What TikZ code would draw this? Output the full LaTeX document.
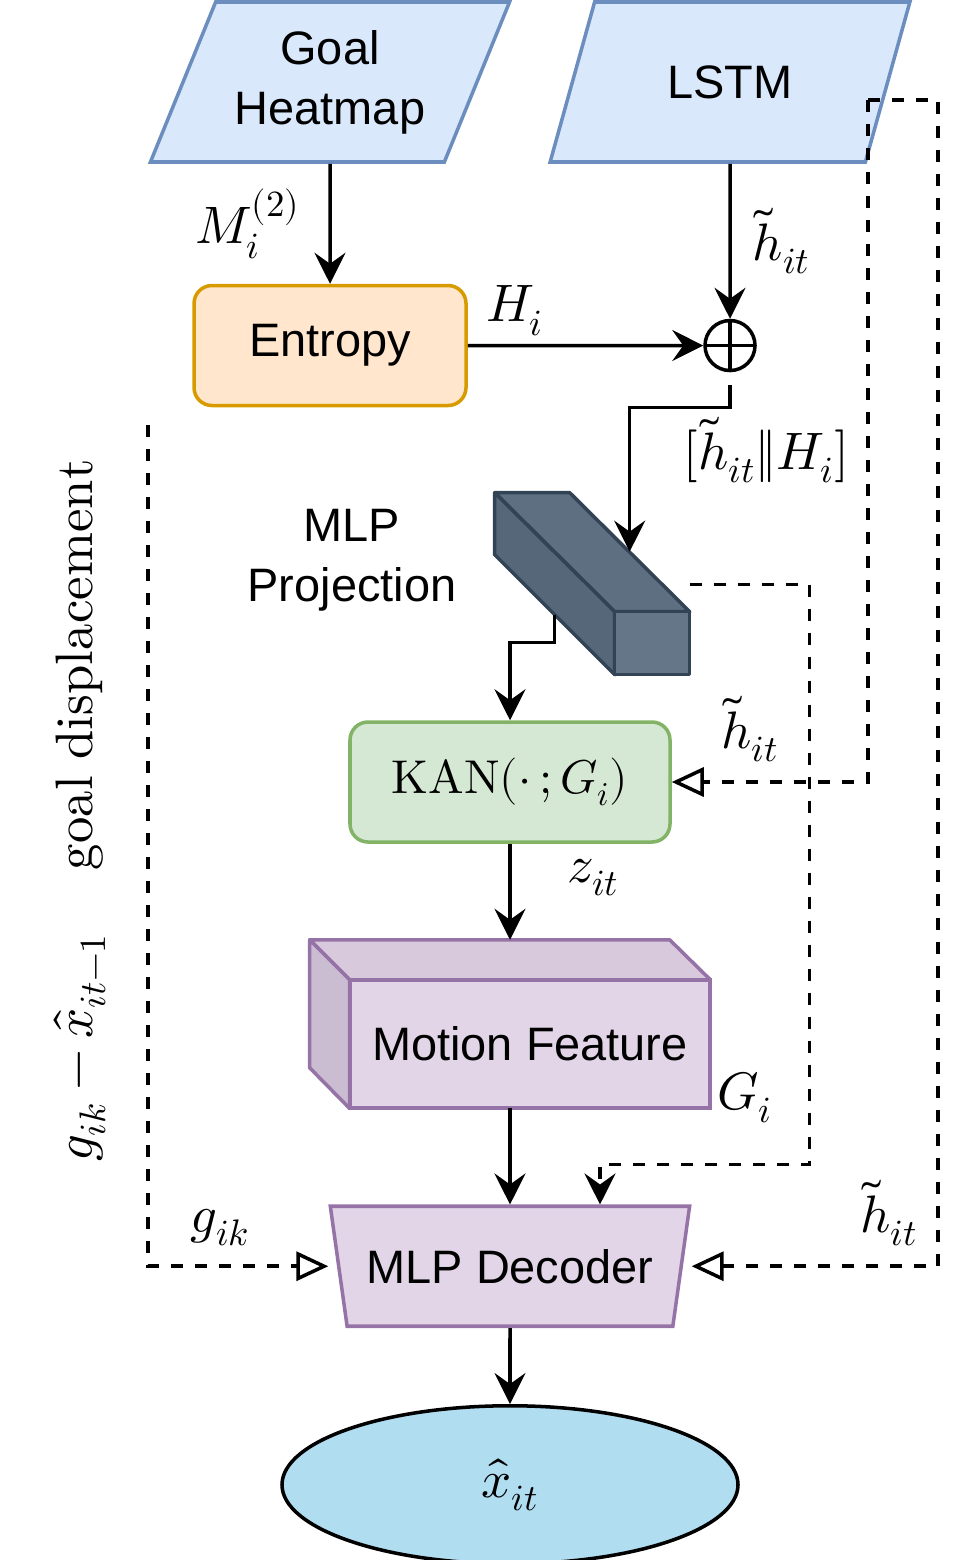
\documentclass[tikz,border=0pt]{standalone}
\usepackage{amsmath}
\usepackage{fontspec}
\usepackage{unicode-math}
\setmathfont{Latin Modern Math}
\usepackage{tikz}
\usetikzlibrary{positioning, shapes.geometric, arrows.meta, calc}
\newfontfamily\arial{Liberation Sans}

\definecolor{ioFill}{HTML}{DAE8FC}
\definecolor{ioLine}{HTML}{6C8EBF}
\definecolor{entFill}{HTML}{FFE6CC}
\definecolor{entLine}{HTML}{D79B00}
\definecolor{kanFill}{HTML}{D5E8D4}
\definecolor{kanLine}{HTML}{82B366}
\definecolor{mfFill}{HTML}{E1D5E7}
\definecolor{mfTop}{HTML}{D8C9DD}
\definecolor{mfSide}{HTML}{CBBDD1}
\definecolor{mfLine}{HTML}{9673A6}
\definecolor{cubeFront}{HTML}{647687}
\definecolor{cubeTop}{HTML}{5E6F82}
\definecolor{cubeSide}{HTML}{56677A}
\definecolor{cubeLine}{HTML}{314354}
\definecolor{outFill}{HTML}{B1DDF0}

\begin{document}
\begin{tikzpicture}[node distance=2.4cm, >={Stealth[length=0.62cm,width=0.62cm,inset=0.22cm]},
  every node/.style={font=\arial\fontsize{26.7}{34}\selectfont},
  io/.style={trapezium, trapezium left angle=63.43, trapezium right angle=116.57, trapezium stretches=true,
    minimum width=7.2cm, minimum height=3.2cm, draw=ioLine, fill=ioFill, line width=2pt, align=center},
  proc/.style={rectangle, rounded corners=0.36cm, minimum width=5.44cm, minimum height=2.4cm, line width=2pt},
  line/.style={line width=2pt, ->},
  fb/.style={line width=2pt, dash pattern=on 0.24cm off 0.24cm, -{Triangle[open,length=0.64cm,width=0.58cm]}},
  lab/.style={font=\fontsize{30}{36}\selectfont}]

\useasboundingbox (0,0) rectangle (19.52,-31.2);

\node (goal) [io] at (6.6,-1.64) {Goal\\Heatmap};
\node (lstm) [io] at (14.6,-1.64) {LSTM};

\node (entropy) [proc, below=of goal, draw=entLine, fill=entFill] {Entropy};
\node (plus) [circle, draw, line width=2pt, minimum size=1cm, inner sep=0pt, below=3.1cm of lstm,
  path picture={\draw[line width=2pt] (path picture bounding box.north) -- (path picture bounding box.south)
    (path picture bounding box.west) -- (path picture bounding box.east);}] {};

\node (proj) [minimum width=3.9cm, minimum height=3.64cm, inner sep=0pt] at (11.85,-11.68) {};
\begin{scope}[shift={(proj.north west)}, draw=cubeLine, line width=2pt, line join=round]
\filldraw[fill=cubeTop] (0,0) -- (1.5,0) -- (3.9,-2.38) -- (2.4,-2.38) -- cycle;
\filldraw[fill=cubeSide] (0,0) -- (2.4,-2.38) -- (2.4,-3.64) -- (0,-1.24) -- cycle;
\filldraw[fill=cubeFront] (2.4,-2.38) -- (3.9,-2.38) -- (3.9,-3.64) -- (2.4,-3.64) -- cycle;
\coordinate (pin) at (2.7,-1.18);
\coordinate (pout) at (1.2,-2.44);
\coordinate (pside) at (3.9,-1.84);
\end{scope}
\node (projlbl) [align=center] at (7.04,-11.2) {MLP\\Projection};

\node (kan) [proc, draw=kanLine, fill=kanFill, minimum width=6.4cm, font=\fontsize{27}{32}\selectfont] at (10.2,-15.64) {$\symup{KAN}(\cdot\,;G_i)$};

\node (mf) [rectangle, below=2.72cm of kan, xshift=0.4cm, minimum width=7.2cm, minimum height=2.56cm] {};
\filldraw[draw=mfLine, fill=mfTop, line width=2pt, line join=round] (mf.north west) -- ++(-0.8,0.8) -- ++(7.2,0) -- (mf.north east) -- cycle;
\filldraw[draw=mfLine, fill=mfSide, line width=2pt, line join=round] (mf.north west) -- ++(-0.8,0.8) -- ++(0,-2.56) -- (mf.south west) -- cycle;
\node (mfbox) [rectangle, draw=mfLine, fill=mfFill, line width=2pt, minimum width=7.2cm, minimum height=2.56cm] at (mf) {Motion Feature};
\coordinate (mfroof) at ($(mf.north)+(0,0.8)$);

\node (dec) [trapezium, trapezium left angle=108.43, trapezium right angle=108.43, trapezium stretches=true,
  minimum width=7.2cm, minimum height=2.4cm, draw=mfLine, fill=mfFill, line width=2pt,
  below=1.92cm of mf, xshift=-0.4cm] {MLP Decoder};
\node (out) [ellipse, draw, fill=outFill, line width=2pt, minimum width=9.12cm, minimum height=3.16cm,
  below=1.52cm of dec, lab] {$\hat{x}_{it}$};

\coordinate (tap) at (17.36,-2.0);
\coordinate (gtop) at (2.96,-8.5);

\draw[line] (goal) -- node (mlab) [lab, left=0.45cm] {$M_i^{(2)}$} (entropy);
\draw[line] (lstm) -- node (hlab) [lab, right=0.3cm] {$\tilde{h}_{it}$} (plus);
\draw[line] (entropy) -- node (Hlab) [lab, pos=0.2, above=0.05cm] {$H_i$} (plus);
\draw[line, shorten <=0.26cm] (plus.south) -- ++(0,-0.7) -| (pin);
\node (catlbl) [lab] at (15.32,-9.0) {$[\tilde{h}_{it}\|H_i]$};
\draw[line] (pout) -- ++(0,-0.56) -| (kan.north);

\draw[fb] (tap) |- node (h2lab) [lab, pos=0.8, above=0.25cm] {$\tilde{h}_{it}$} (kan.east);
\draw[fb] (tap) -- ++(1.4,0) |- node (h3lab) [lab, pos=0.6, above=0.25cm] {$\tilde{h}_{it}$} (dec.top right corner |- dec.east);
\draw[line, dash pattern=on 0.24cm off 0.24cm] (pside) -- ++(2.4,0) |- ([xshift=1.8cm,yshift=0.8cm]dec.north) -- ([xshift=1.8cm]dec.north);
\node (glab) [lab] at (14.9,-21.96) {$G_i$};

\draw[line] (kan) -- node (zlab) [lab, pos=0.35, right=1.0cm] {$z_{it}$} (kan |- mfroof);
\draw[line] (dec.north |- mf.south) -- (dec.north);
\draw[line] (dec) -- (out);

\draw[fb] (gtop) |- node (gik) [lab, pos=0.7, above=0.25cm] {$g_{ik}$} (dec.top left corner |- dec.west);
\node (disp) [lab, rotate=90] at (1.6,-16.2) {$g_{ik}-\hat{x}_{it-1}\hspace{1.2em}\symup{goal\ displacement}$};

\end{tikzpicture}
\end{document}
